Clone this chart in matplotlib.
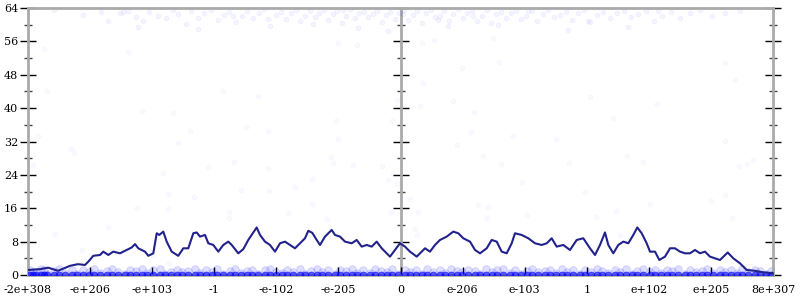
import numpy as np
import matplotlib
matplotlib.use('Agg')
import matplotlib.pyplot as plt
from matplotlib.ticker import MultipleLocator

plt.rcParams['font.family'] = 'DejaVu Serif'

GRID_GRAY = '#aaaaaa'
LINE_BLUE = '#22228c'
DOT_BLUE = '#0000ff'

# ── data ──
tick_labels = ['-2e+308', '-e+206', '-e+103', '-1', '-e-102', '-e-205', '0',
               'e-206', 'e-103', '1', 'e+102', 'e+205', '8e+307']
y_ticks = [0, 8, 16, 24, 32, 40, 48, 56, 64]

# running average line
avg_x = [0, 12, 20.3, 25, 30, 35, 42, 50, 57, 60.3, 65.3, 72, 75.3, 80.3, 85.3, 92,
         98.7, 103.7, 107, 110.3, 117, 120.3, 125.3, 128.7, 131.3, 135.3, 138.7, 143.7,
         150.3, 155.3, 160.3, 165.3, 168.7, 172, 177, 180.3, 185.3, 190.3, 195.3, 200.3,
         203.7, 210.3, 215.3, 220.3, 223.7, 228.7, 232, 237, 242, 247, 252, 257, 262,
         267, 272, 277, 280.3, 284.3, 288.7, 292, 297, 303.7, 307, 312, 317, 323.7,
         328.7, 333.7, 338.7, 343.7, 348.7, 353.7, 357, 362, 367, 372, 377, 382, 388.7,
         397, 402, 407, 412, 418.7, 425.3, 430.3, 435.3, 442, 447, 452, 458.7, 463.7,
         468.7, 473.7, 478.7, 483.7, 487, 493.7, 500.3, 507, 513.7, 518.7, 523.7, 528.7,
         535.3, 542, 548.7, 555.3, 562, 567, 572, 577, 580.3, 585.3, 590.3, 595.3, 600.3,
         605.3, 609.3, 613.7, 618.7, 622, 627, 631.3, 637, 642, 647, 652, 657, 662, 667,
         672, 677, 682, 687, 692, 699.7, 705.3, 712, 718.7, 727, 735.3, 745]
avg_y = [1.2, 1.4, 1.75, 1.4, 1.0, 1.5, 2.2, 2.6, 2.4, 3.2, 4.6, 4.8, 5.6, 4.8, 5.6, 5.2,
         6.0, 6.6, 7.4, 6.4, 5.6, 4.6, 5.2, 10.0, 9.6, 10.4, 8.0, 5.6,
         4.6, 6.4, 6.4, 10.0, 10.2, 9.2, 9.6, 7.6, 7.2, 5.6, 7.2, 8.0,
         7.2, 5.2, 6.2, 8.4, 9.6, 11.4, 9.6, 8.0, 7.2, 5.6, 7.6, 8.0, 7.2,
         6.4, 7.6, 8.8, 10.6, 10.1, 8.4, 7.2, 9.2, 10.8, 9.6, 9.2, 8.0, 7.6,
         8.4, 6.8, 7.2, 6.8, 8.0, 6.4, 5.6, 4.4, 6.0, 7.6, 6.8, 5.6, 4.4,
         6.4, 5.6, 7.2, 8.4, 9.2, 10.4, 10.0, 8.8, 8.0, 6.0, 5.2, 6.4, 8.4,
         8.0, 5.6, 5.2, 7.6, 10.0, 9.6, 8.8, 7.6, 7.2, 7.6, 8.8, 6.8,
         7.2, 6.0, 8.4, 8.8, 6.4, 4.8, 7.2, 10.2, 7.2, 5.2, 7.2, 8.0, 7.6,
         9.6, 11.4, 10.0, 7.6, 5.6, 5.6, 3.6, 4.4, 6.4, 6.4, 5.6, 5.2, 5.2, 6.0,
         5.2, 5.6, 4.4, 4.0, 3.6, 5.4, 4.0, 2.8, 1.2, 1.0, 0.65, 0.4]

# samples near the top of the range
top_x = [26, 55, 73, 80, 92, 100, 108, 115, 121, 130,
         138, 145, 150, 158, 163, 170, 176, 183, 190, 196,
         201, 208, 214, 219, 225, 231, 236, 242, 248, 253,
         258, 263, 268, 272, 277, 282, 287, 291, 296, 300,
         305, 309, 314, 318, 322, 327, 331, 336, 340, 345,
         349, 354, 358, 362, 367, 371, 376, 380, 385, 389,
         394, 398, 403, 407, 412, 416, 421, 425, 430, 435,
         439, 444, 449, 454, 459, 463, 468, 473, 478, 483,
         488, 493, 498, 504, 509, 515, 520, 526, 532, 538,
         544, 550, 556, 562, 569, 575, 582, 589, 596, 603,
         610, 618, 626, 634, 643, 652, 662, 672, 684, 697,
         712, 110, 170, 240, 330, 360, 420, 470, 540, 600,
         95, 205, 285, 315, 375, 410, 445, 500, 560, 630]
top_y = [63.6, 62.4, 63.1, 61.0, 62.7, 63.4, 61.9, 60.8, 63.0, 62.2,
         61.5, 63.5, 62.6, 60.2, 63.2, 61.7, 62.9, 63.6, 61.2, 62.3,
         63.0, 60.6, 62.1, 63.4, 61.6, 62.8, 63.7, 59.8, 62.4, 63.1,
         61.3, 62.7, 63.5, 60.9, 62.2, 63.3, 61.8, 62.9, 63.6, 61.1,
         62.5, 63.2, 60.4, 62.0, 63.7, 61.6, 62.8, 63.1, 61.9, 62.6,
         63.4, 60.7, 62.3, 63.0, 61.4, 62.9, 63.6, 61.2, 62.4, 63.3,
         60.5, 62.7, 63.5, 61.8, 62.1, 63.2, 60.9, 62.6, 63.7, 61.5,
         62.8, 63.3, 61.0, 62.2, 63.6, 60.3, 62.5, 63.1, 61.7, 62.9,
         63.4, 61.3, 62.0, 63.2, 60.8, 62.6, 63.5, 61.9, 62.3, 63.0,
         61.2, 62.7, 63.6, 60.6, 62.4, 63.1, 61.5, 62.8, 63.3, 61.8,
         62.5, 63.4, 60.9, 62.1, 63.0, 61.6, 62.7, 63.5, 62.2, 62.9,
         63.2, 59.5, 58.9, 61.4, 59.2, 58.6, 59.7, 60.0, 58.8, 59.4,
         63.0, 62.0, 60.1, 63.5, 62.6, 61.1, 62.0, 63.4, 61.0, 63.2]

# scattered samples in the middle of the range
mid_x = [16, 100, 19, 697, 707, 434, 395, 329, 310, 406, 394, 465, 471,
         10, 5, 43, 46, 114, 145, 162, 150, 135, 140, 109, 140, 166, 180,
         195, 206, 218, 230, 240, 240, 213, 241, 201, 201, 267, 284, 284,
         260, 299, 308, 310, 303, 305, 325, 354, 364, 369, 360, 365, 369, 363,
         392, 425, 446, 443, 429, 455, 473, 485, 494, 528, 541, 562, 585,
         557, 599, 615, 629, 622, 588, 568, 499, 459, 450, 382, 390, 697,
         711, 719, 725, 683, 697, 704, 743,
         27, 54, 80, 141, 125, 387, 389, 460, 592]
mid_y = [54.2, 53.4, 44.0, 50.8, 46.8, 49.6, 46.1, 55.2, 55.6, 56.4, 55.7, 56.9, 51.0,
         33.2, 26.4, 30.1, 29.3, 39.4, 38.8, 34.5, 31.7, 24.4, 19.4, 16.0, 15.8, 18.7, 26.0,
         44.0, 27.0, 35.4, 43.0, 34.5, 25.7, 20.4, 20.2, 15.0, 13.7, 21.0, 23.1, 16.9,
         14.9, 13.4, 37.0, 32.6, 28.2, 26.9, 26.3, 26.2, 36.9, 42.0, 22.8, 24.4, 21.8, 15.2,
         40.6, 41.6, 39.0, 34.2, 31.1, 28.6, 26.7, 33.2, 22.2, 32.7, 26.9, 42.6, 37.7,
         20.0, 28.5, 27.2, 41.1, 17.0, 15.4, 14.0, 14.3, 13.7, 16.8, 18.3, 15.0, 32.2,
         26.1, 26.7, 27.5, 17.8, 19.1, 13.6, 18.8,
         9.8, 6.0, 11.4, 2.8, 4.8, 11.0, 9.6, 16.4, 9.6]

# dense samples near zero
low_x = [2, 8, 13, 19, 26, 31, 37, 44, 49, 55,
         61, 66, 72, 79, 84, 90, 97, 102, 108, 114,
         119, 125, 132, 137, 143, 149, 154, 160, 167, 172,
         178, 184, 189, 195, 202, 207, 213, 219, 224, 230,
         237, 242, 248, 254, 259, 265, 272, 277, 283, 289,
         294, 300, 307, 312, 318, 324, 329, 335, 342, 347,
         353, 359, 364, 370, 377, 382, 388, 394, 399, 405,
         412, 417, 423, 429, 434, 440, 447, 452, 458, 464,
         469, 475, 482, 487, 493, 499, 504, 510, 517, 522,
         528, 534, 539, 545, 552, 557, 563, 569, 574, 580,
         587, 592, 598, 604, 609, 615, 622, 627, 633, 639,
         644, 650, 657, 662, 668, 674, 679, 685, 692, 697,
         703, 709, 714, 720, 727, 732, 738, 743, 5, 16]
low_y = [1.2, 0.6, 1.4, 0.3, 0.9, 1.5, 0.5, 1.1, 0.2, 1.3,
         0.8, 1.4, 0.4, 1.0, 1.5, 0.6, 0.3, 1.2, 0.9, 1.4,
         0.5, 1.1, 1.5, 0.2, 0.8, 1.3, 0.6, 1.0, 1.4, 0.4,
         1.2, 0.7, 1.5, 0.3, 1.0, 1.4, 0.5, 0.9, 1.3, 0.2,
         1.1, 1.5, 0.6, 0.4, 1.2, 0.8, 1.4, 0.3, 1.0, 1.5,
         0.7, 1.3, 0.2, 1.1, 0.9, 1.5, 0.5, 1.2, 0.4, 1.4,
         1.0, 0.6, 1.5, 0.3, 1.3, 0.8, 1.1, 0.2, 1.4, 0.7,
         1.2, 0.4, 1.5, 0.9, 0.6, 1.3, 1.0, 0.3, 1.4, 0.8,
         1.1, 1.5, 0.5, 1.2, 0.2, 0.9, 1.4, 0.7, 1.0, 1.3,
         0.4, 1.5, 0.8, 1.1, 0.3, 1.2, 0.6, 1.4, 0.9, 0.5,
         1.3, 0.7, 1.5, 0.2, 1.0, 1.4, 0.6, 1.1, 0.4, 1.2,
         0.9, 1.5, 0.3, 1.3, 0.7, 1.0, 1.4, 0.5, 1.2, 0.8,
         1.1, 0.4, 1.5, 0.6, 1.2, 0.9, 0.3, 1.0, 0.7, 1.3]
zero_y = [0.0] * len(low_x)

X_MAX = 745

fig = plt.figure(figsize=(8, 3), dpi=100)
ax = fig.add_axes([28/800, 25/300, 745/800, 267/300])

dot = dict(linestyle='none', marker='o', mew=0.6)
ax.plot(top_x, top_y, color=DOT_BLUE, alpha=0.045, ms=3.4, **dot)
ax.plot(mid_x, mid_y, color=DOT_BLUE, alpha=0.025, ms=3.4, **dot)
ax.plot(low_x, low_y, color=DOT_BLUE, alpha=0.13, ms=5.5, **dot)
ax.plot(low_x, zero_y, color=DOT_BLUE, alpha=0.6, ms=5, zorder=3, **dot)
ax.plot(avg_x, avg_y, color=LINE_BLUE, linewidth=1.5, zorder=4)

ax.set_xlim(0, X_MAX)
ax.set_ylim(0, 64)

# axes styling
for s in ax.spines.values():
    s.set_color(GRID_GRAY)
    s.set_linewidth(2)

ax.set_xticks(np.linspace(0, X_MAX, len(tick_labels)))
ax.set_xticklabels(tick_labels, fontsize=8)
ax.tick_params(axis='x', direction='in', length=6, width=1, color='black',
               top=False, pad=7)

ax.set_yticks(y_ticks)
ax.set_yticklabels([str(v) for v in y_ticks], fontsize=8)
ax.yaxis.set_minor_locator(MultipleLocator(4))
ax.tick_params(axis='y', which='major', direction='inout', length=12, width=1,
               color='black', right=True, pad=1)
ax.tick_params(axis='y', which='minor', direction='inout', length=6, width=1,
               color='#444444', right=True)

# middle axis at zero
mid = ax.secondary_yaxis(0.5)
mid.spines['right'].set_color(GRID_GRAY)
mid.spines['right'].set_linewidth(2)
mid.spines['left'].set_visible(False)
mid.set_yticks(y_ticks)
mid.yaxis.set_minor_locator(MultipleLocator(4))
mid.tick_params(which='major', direction='inout', length=12, width=1, color='black',
                labelright=False, labelleft=False)
mid.tick_params(which='minor', direction='inout', length=6, width=1, color='#444444',
                labelright=False, labelleft=False)

plt.savefig('out.png', dpi=100, facecolor='white')
